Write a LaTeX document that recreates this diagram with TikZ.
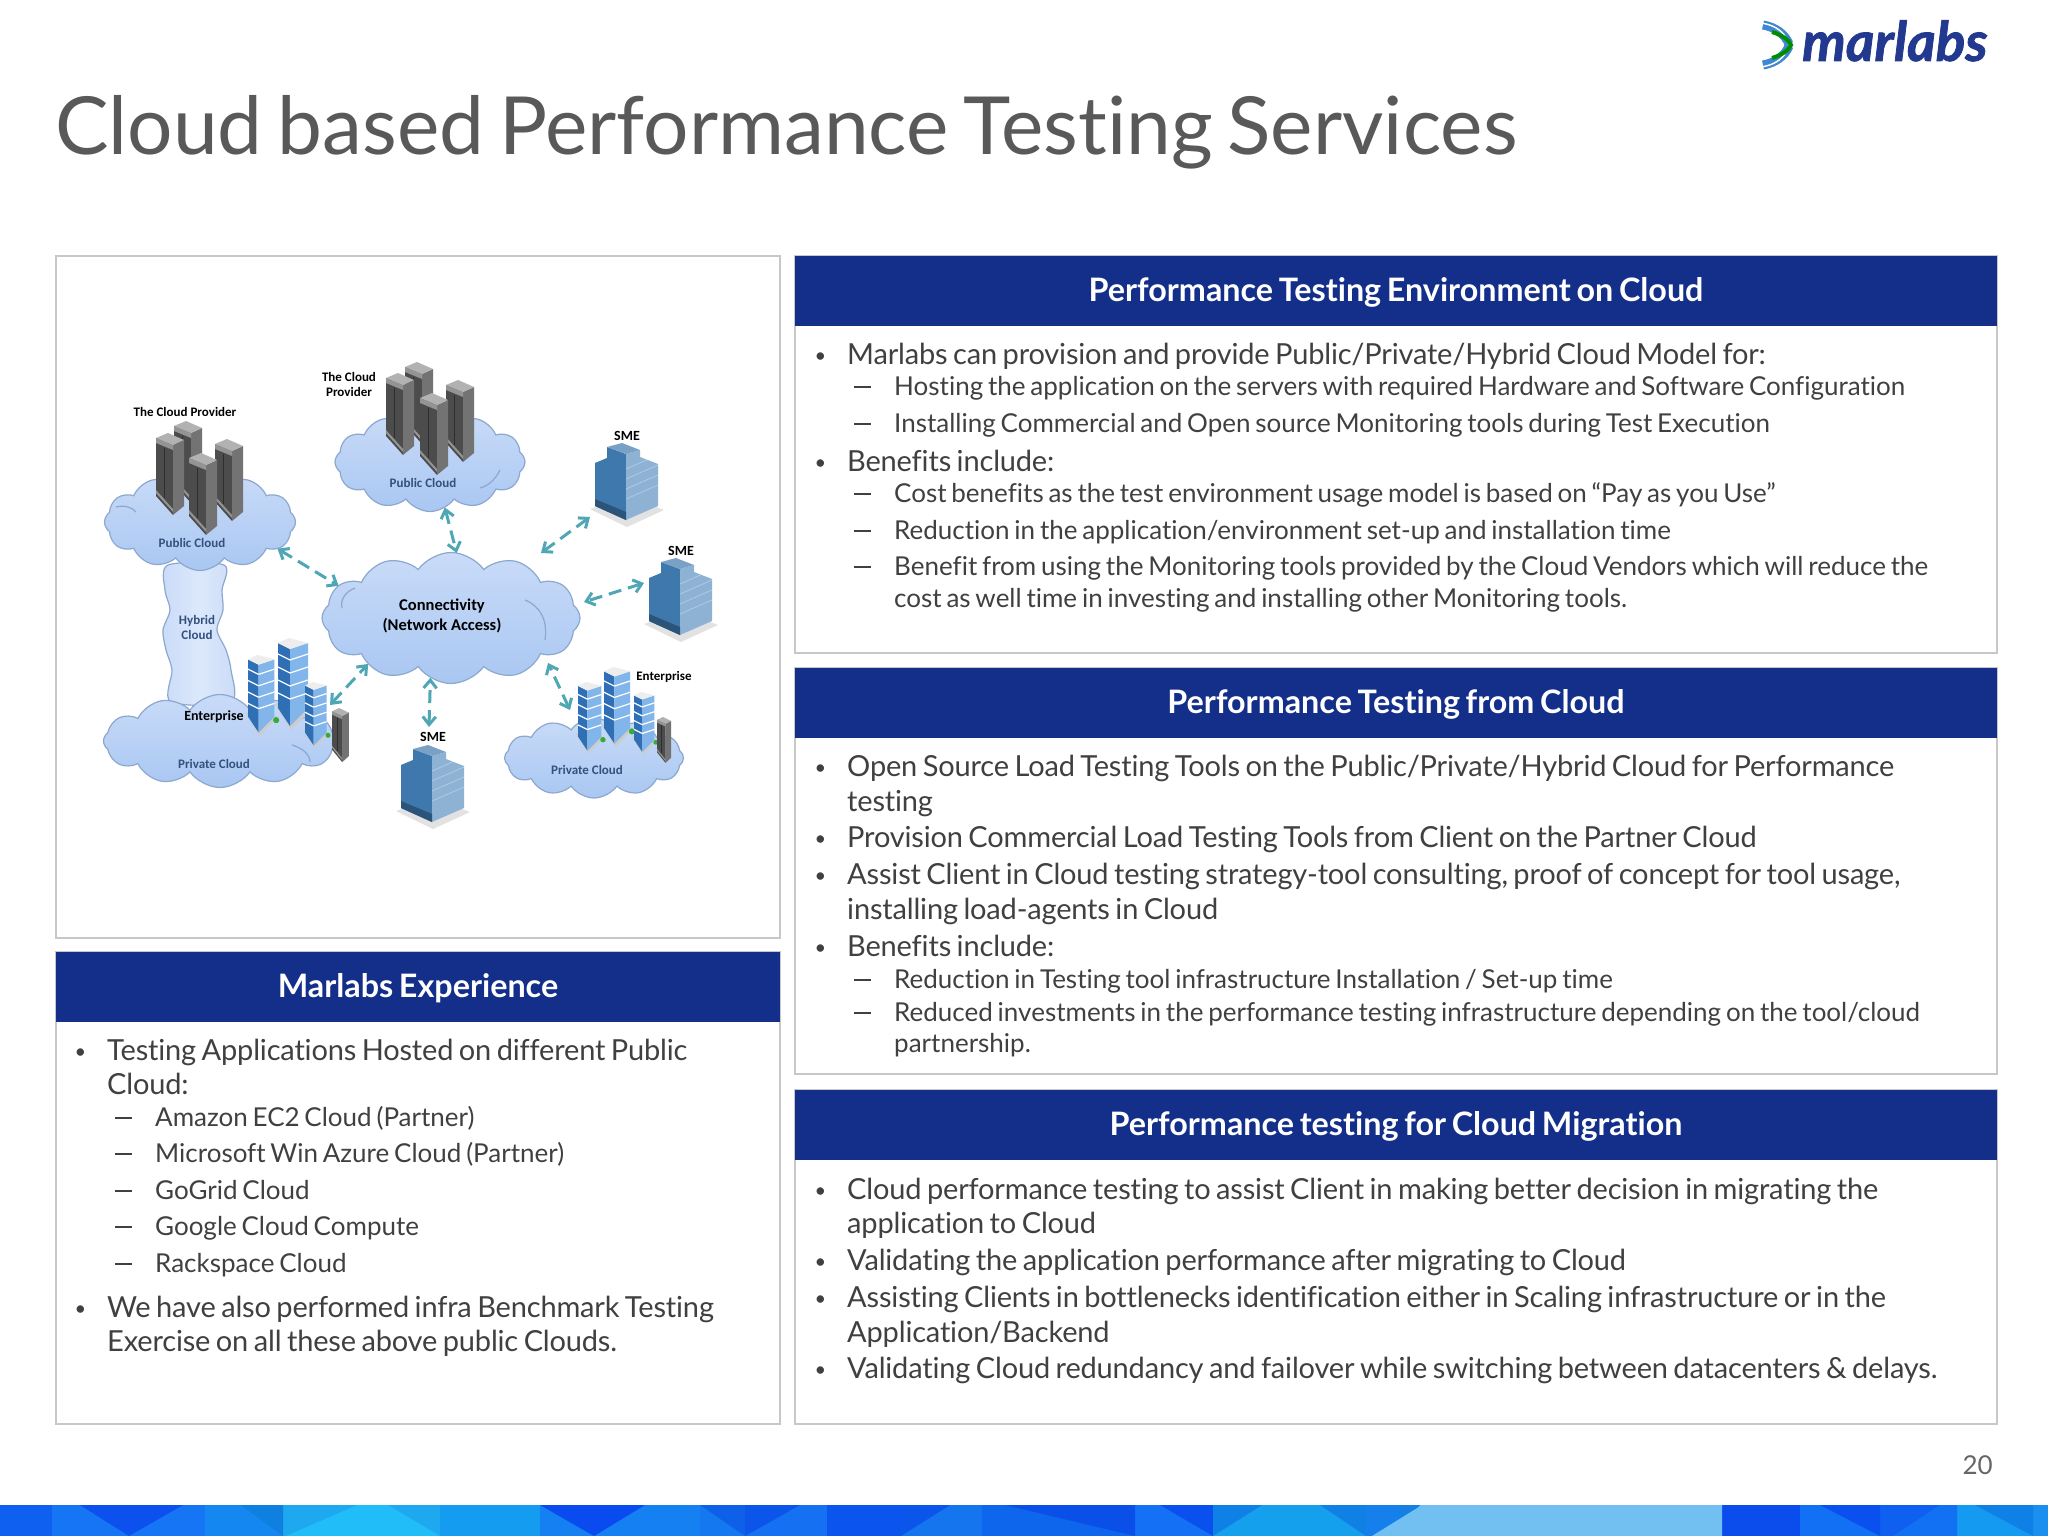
\documentclass[tikz,border=0pt]{standalone}
\usepackage{fontspec}
\setmainfont{Lato}[Ligatures=NoCommon]
\newfontfamily\labelfont{Carlito}
\newfontfamily\titlefont{Lato}[Ligatures=NoCommon,WordSpace=0.95]
\newfontfamily\headfont{Lato}[Ligatures=NoCommon,WordSpace=0.6]
\newfontfamily\bodyone{Lato}[Ligatures=NoCommon,LetterSpace=-0.6,WordSpace=0.75]
\newfontfamily\bodytwo{Lato}[Ligatures=NoCommon,WordSpace=0.72]
\newfontfamily\logofont{Lato}[BoldItalicFeatures={FakeBold=1.4}]
\usetikzlibrary{shapes.symbols,arrows.meta}
\definecolor{headblue}{HTML}{142F8A}
\definecolor{panelline}{HTML}{C8C8C8}
\definecolor{bodygray}{HTML}{404040}
\definecolor{titlegray}{HTML}{595959}
\definecolor{logoblue}{HTML}{22398F}
\definecolor{cloudline}{HTML}{8CA8CE}
\definecolor{cloudlow}{HTML}{A9C7F2}
\definecolor{cloudmid}{HTML}{DCE8FB}
\definecolor{cloudtop}{HTML}{C9DBF8}
\definecolor{cloudtext}{HTML}{34507E}
\definecolor{linkteal}{HTML}{4FA7B5}
\definecolor{smeleft}{HTML}{3F78AC}
\definecolor{smeright}{HTML}{8DB2D4}
\definecolor{towerblue}{HTML}{2F6FB5}
\definecolor{towerside}{HTML}{82B6EA}
\newcommand{\itemdot}{\llap{\raisebox{2pt}{\fontsize{20}{20}\selectfont\textbullet}\hspace{21pt}}}
\newcommand{\itemdash}{\llap{\rule[7pt]{17pt}{1.6pt}\hspace{23pt}}}
\tikzset{
	panelbox/.style={draw=panelline,fill=white,line width=1.5pt,rectangle,inner sep=0,outer sep=0,anchor=north west},
	headbar/.style={fill=headblue,text=white,rectangle,inner sep=0,outer sep=0,anchor=north west,minimum height=70pt,text height=26pt,text depth=6pt,font=\headfont\fontsize{32.3}{32}\selectfont\bfseries},
	lineone/.style={anchor=base west,inner sep=0,text=bodygray,font=\bodyone\fontsize{29}{29}\selectfont},
	linetwo/.style={anchor=base west,inner sep=0,text=bodygray,font=\bodytwo\fontsize{26}{26}\selectfont},
	puff/.style={cloud,cloud puffs=12,cloud puff arc=110,cloud ignores aspect,draw=cloudline,line width=1.2pt,top color=cloudtop,middle color=cloudmid,bottom color=cloudlow,inner sep=0,outer sep=0},
	puffarc/.style={draw=cloudline,line width=1.2pt},
	cloudname/.style={inner sep=0,text=cloudtext,font=\labelfont\fontsize{13}{15}\selectfont\bfseries,align=center},
	blacklabel/.style={inner sep=0,text=black,font=\labelfont\fontsize{13}{15}\selectfont\bfseries,align=center},
	link/.style={{Straight Barb[length=8pt,width=13pt]}-{Straight Barb[length=8pt,width=13pt]},dash pattern=on 13pt off 7pt,draw=linkteal,line width=3pt},
	serverbox/.pic={
		\fill[black!70] (0,5) -- (17,12) -- (17,82) -- (0,63) -- cycle;
		\fill[black!55] (17,12) -- (28,7) -- (28,73) -- (17,82) -- cycle;
		\fill[black!30] (0,5) -- (12,0) -- (28,7) -- (17,12) -- cycle;
		\fill[black!42] (0,5) -- (17,12) -- (17,17) -- (0,10) -- cycle;
		\fill[black!42] (0,57) -- (17,76) -- (17,79) -- (0,60) -- cycle;
		\draw[black!82,line width=.5pt] (8,15) -- (8,65);
	},
	smetower/.pic={
		\fill[black!14,opacity=.8] (-5,66) -- (32,84) -- (69,67) -- (33,53) -- cycle;
		\fill[smeleft] (0,20) -- (12,15) -- (12,4) -- (31,11) -- (31,77) -- (0,63) -- cycle;
		\fill[smeright] (31,11) -- (45,7) -- (45,14) -- (63,21) -- (63,63) -- (31,77) -- cycle;
		\fill[smeleft!70] (12,4) -- (27,0) -- (45,7) -- (31,11) -- cycle;
		\fill[smeleft!70!black] (0,56) -- (31,69) -- (31,77) -- (0,63) -- cycle;
		\foreach \k in {26,36,46,56}
			\draw[white,opacity=.35,line width=.7pt] (31,\k) -- (63,\k-14);
	},
	officetower/.pic={
		\fill[black!20] (-3,66) -- (13,92) -- (33,72) -- (20,60) -- cycle;
		\fill[towerblue] (0,5) -- (12,11) -- (12,88) -- (0,70) -- cycle;
		\fill[towerside] (12,11) -- (30,5) -- (30,70) -- (12,88) -- cycle;
		\fill[black!7] (0,5) -- (11,0) -- (30,5) -- (12,11) -- cycle;
		\foreach \k in {22,35,48,61}{
			\draw[white,line width=1.2pt] (0,\k-6) -- (12,\k);
			\draw[white,line width=1.2pt] (12,\k) -- (30,\k-6);
		}
		\fill[green!60!black!80] (32,74) circle (3.5pt);
	},
}
\begin{document}
\begin{tikzpicture}[x=1pt,y=-1pt]
	\useasboundingbox (0,0) rectangle (2048,1536);
	\fill[white] (0,0) rectangle (2048,1536);
	% title and logo
	\node[anchor=base west,inner sep=0,text=titlegray,font=\titlefont\fontsize{80.2}{80}\selectfont] (title) at (55,154) {Cloud based Performance Testing Services};
	\node[anchor=base west,inner sep=0,text=logoblue,font=\logofont\fontsize{55}{55}\selectfont\bfseries\itshape] (logotext) at (1802,61) {marlabs};
	\draw[line width=9pt,color=cyan!55!blue!80] (1763,25) .. controls (1775,27) and (1785,34) .. (1789,44);
	\draw[line width=9pt,color=cyan!55!blue!80] (1763,65) .. controls (1775,63) and (1785,56) .. (1789,46);
	\draw[line width=1.5pt,color=white] (1760,23) .. controls (1772,24) and (1782,30) .. (1786,38);
	\draw[line width=1.5pt,color=white] (1760,67) .. controls (1772,66) and (1782,60) .. (1786,52);
	\draw[line width=4pt,color=green!55!black] (1772,32) .. controls (1782,35) and (1789,40) .. (1791,45) .. controls (1789,50) and (1782,55) .. (1772,58);
	% panels
	\node[panelbox,minimum width=724pt,minimum height=682pt] (imgbox) at (56,256) {};
	\node[panelbox,minimum width=724pt,minimum height=472pt] (expbox) at (56,952) {};
	\node[panelbox,minimum width=1202pt,minimum height=397pt] (envbox) at (795,256) {};
	\node[panelbox,minimum width=1202pt,minimum height=406pt] (frombox) at (795,668) {};
	\node[panelbox,minimum width=1202pt,minimum height=334pt] (migbox) at (795,1090) {};
	\node[headbar,minimum width=724pt] (exphead) at (56,952) {Marlabs Experience};
	\node[headbar,minimum width=1202pt] (envhead) at (795,256) {Performance Testing Environment on Cloud};
	\node[headbar,minimum width=1202pt] (fromhead) at (795,668) {Performance Testing from Cloud};
	\node[headbar,minimum width=1202pt] (mighead) at (795,1090) {Performance testing for Cloud Migration};
	% environment text
	\node[lineone] (env1) at (847,364) {\itemdot Marlabs can provision and provide Public/Private/Hybrid Cloud Model for:};
	\node[linetwo] (env2) at (894,395) {\itemdash Hosting the application on the servers with required Hardware and Software Configuration};
	\node[linetwo] (env3) at (894,432) {\itemdash Installing Commercial and Open source Monitoring tools during Test Execution};
	\node[lineone] (env4) at (847,471) {\itemdot Benefits include:};
	\node[linetwo] (env5) at (894,502) {\itemdash Cost benefits as the test environment usage model is based on “Pay as you Use”};
	\node[linetwo] (env6) at (894,539) {\itemdash Reduction in the application/environment set-up and installation time};
	\node[linetwo] (env7) at (894,575) {\itemdash Benefit from using the Monitoring tools provided by the Cloud Vendors which will reduce the};
	\node[linetwo] (env8) at (894,607) {cost as well time in investing and installing other Monitoring tools.};
	% from cloud text
	\node[lineone] (from1) at (847,776) {\itemdot Open Source Load Testing Tools on the Public/Private/Hybrid Cloud for Performance};
	\node[lineone] (from2) at (847,811) {testing};
	\node[lineone] (from3) at (847,847) {\itemdot Provision Commercial Load Testing Tools from Client on the Partner Cloud};
	\node[lineone] (from4) at (847,884) {\itemdot Assist Client in Cloud testing strategy-tool consulting, proof of concept for tool usage,};
	\node[lineone] (from5) at (847,919) {installing load-agents in Cloud};
	\node[lineone] (from6) at (847,956) {\itemdot Benefits include:};
	\node[linetwo] (from7) at (894,988) {\itemdash Reduction in Testing tool infrastructure Installation / Set-up time};
	\node[linetwo] (from8) at (894,1021) {\itemdash Reduced investments in the performance testing infrastructure depending on the tool/cloud};
	\node[linetwo] (from9) at (894,1052) {partnership.};
	% migration text
	\node[lineone] (mig1) at (847,1199) {\itemdot Cloud performance testing to assist Client in making better decision in migrating the};
	\node[lineone] (mig2) at (847,1233) {application to Cloud};
	\node[lineone] (mig3) at (847,1270) {\itemdot Validating the application performance after migrating to Cloud};
	\node[lineone] (mig4) at (847,1307) {\itemdot Assisting Clients in bottlenecks identification either in Scaling infrastructure or in the};
	\node[lineone] (mig5) at (847,1342) {Application/Backend};
	\node[lineone] (mig6) at (847,1378) {\itemdot Validating Cloud redundancy and failover while switching between datacenters \& delays.};
	% experience text
	\node[lineone] (exp1) at (107,1060) {\itemdot Testing Applications Hosted on different Public};
	\node[lineone] (exp2) at (107,1094) {Cloud:};
	\node[linetwo] (exp3) at (155,1126) {\itemdash Amazon EC2 Cloud (Partner)};
	\node[linetwo] (exp4) at (155,1162) {\itemdash Microsoft Win Azure Cloud (Partner)};
	\node[linetwo] (exp5) at (155,1199) {\itemdash GoGrid Cloud};
	\node[linetwo] (exp6) at (155,1235) {\itemdash Google Cloud Compute};
	\node[linetwo] (exp7) at (155,1272) {\itemdash Rackspace Cloud};
	\node[lineone] (exp8) at (107,1317) {\itemdot We have also performed infra Benchmark Testing};
	\node[lineone] (exp9) at (107,1351) {Exercise on all these above public Clouds.};
	% clouds
	\draw[draw=cloudline,line width=1.2pt,left color=cloudtop,right color=cloudtop,middle color=cloudmid] plot[smooth cycle] coordinates {(168,565) (165,590) (170,610) (163,630) (166,650) (172,670) (171,702) (231,702) (231,670) (226,650) (217,630) (223,610) (222,590) (224,565)};
	\node[puff,minimum width=191pt,minimum height=97pt] (publeft) at (200,522) {};
	\node[puff,minimum width=190pt,minimum height=99pt] (pubtop) at (430,462) {};
	\node[puff,minimum width=233pt,minimum height=93pt] (privleft) at (220,741) {};
	\node[puff,minimum width=179pt,minimum height=80pt] (privright) at (594,758) {};
	\node[puff,minimum width=258pt,minimum height=131pt] (conn) at (451,618) {};
	\draw[puffarc] (525,600) .. controls (540,606) and (548,620) .. (545,640);
	\draw[puffarc] (355,588) .. controls (345,592) and (340,600) .. (342,608);
	\draw[puffarc] (292,745) .. controls (302,748) and (310,754) .. (310,762);
	\draw[puffarc] (116,507) .. controls (124,505) and (132,507) .. (136,512);
	\draw[puffarc] (500,470) .. controls (495,480) and (488,486) .. (480,488);
	% servers
	\pic at (174,421) {serverbox};
	\pic at (215,439) {serverbox};
	\pic at (156,433) {serverbox};
	\pic at (189,453) {serverbox};
	\pic at (405,362) {serverbox};
	\pic at (446,380) {serverbox};
	\pic at (386,373) {serverbox};
	\pic at (420,393) {serverbox};
	% small offices
	\pic at (595,443) {smetower};
	\pic at (649,558) {smetower};
	\pic at (401,745) {smetower};
	% enterprise groups
	\pic[scale=.88] at (248,655) {officetower};
	\pic at (278,638) {officetower};
	\pic[scale=.72] at (305,682) {officetower};
	\pic[xscale=.6,yscale=.66] at (332,708) {serverbox};
	\pic[scale=.78] at (578,682) {officetower};
	\pic[scale=.87] at (604,667) {officetower};
	\pic[scale=.68] at (634,692) {officetower};
	\pic[xscale=.5,yscale=.56] at (657,717) {serverbox};
	% labels
	\node[inner sep=0,text=black,font=\labelfont\fontsize{16.5}{20}\selectfont\bfseries,align=center] (connlabel) at (442,616) {Connectivity\\(Network Access)};
	\node[blacklabel] (prov1) at (185,412) {The Cloud Provider};
	\node[blacklabel] (prov2) at (349,384) {The Cloud\\Provider};
	\node[cloudname] (pub1) at (192,543) {Public Cloud};
	\node[cloudname] (pub2) at (423,483) {Public Cloud};
	\node[cloudname] (hyb) at (197,627) {Hybrid\\Cloud};
	\node[cloudname] (priv1) at (214,764) {Private Cloud};
	\node[cloudname] (priv2) at (587,770) {Private Cloud};
	\node[blacklabel,font=\labelfont\fontsize{14}{15}\selectfont\bfseries] (ent1) at (214,717) {Enterprise};
	\node[blacklabel] (ent2) at (664,677) {Enterprise};
	\node[blacklabel,font=\labelfont\fontsize{14}{15}\selectfont\bfseries] (sme1) at (627,436) {SME};
	\node[blacklabel,font=\labelfont\fontsize{14}{15}\selectfont\bfseries] (sme2) at (681,551) {SME};
	\node[blacklabel,font=\labelfont\fontsize{14}{15}\selectfont\bfseries] (sme3) at (433,737) {SME};
	% link ends
	\coordinate (end1) at (590,517);
	\coordinate (end2) at (644,583);
	\coordinate (end3) at (429,727);
	\coordinate (end4) at (330,705);
	\coordinate (end5) at (570,710);
	\coordinate (connne) at (541,553);
	\coordinate (connea) at (584,602);
	\coordinate (connse) at (548,663);
	\draw[link] (publeft.-19) -- (conn.164);
	\draw[link] (pubtop.-72) -- (conn.85);
	\draw[link] (end1) -- (connne);
	\draw[link] (end2) -- (connea);
	\draw[link] (end3) -- (conn.-109);
	\draw[link] (end4) -- (conn.-151);
	\draw[link] (end5) -- (connse);
	% footer
	\node[anchor=base east,inner sep=0,text=bodygray!80,font=\fontsize{26}{26}\selectfont] (pageno) at (1993,1474) {20};
	\foreach \xa/\xb/\tint in {0/52/0F60F0,52/205/1575F5,205/283/1488F0,283/440/1DA8F0,440/540/149DF0,540/700/1580F2,700/745/1478F0,745/827/1570F2,827/901/0B55EE,901/982/1575EE,982/1135/0E66EC,1135/1213/1470F5,1213/1366/15A0EE,1366/1400/1580EC,1400/1722/72C0F2,1722/1800/0B4CEC,1800/1880/1270F5,1880/1957/0F5FF0,1957/2033/149AF0,2033/2048/1A8FF0}{
		\definecolor{tintnow}{HTML}{\tint}
		\fill[tintnow] (\xa,1505) rectangle (\xb,1536);
	}
	\foreach \xa/\xb/\xc/\xd/\tint in {80/183/129/129/0C50EE,241/283/283/283/1080E0,357/388/440/286/20BDF8,540/645/594/594/0A4BF0,700/745/745/745/0F60E8,745/800/745/745/0C55EA,901/950/901/901/0B55EA,1005/1135/1135/1135/0A50E8,1160/1213/1213/1213/0A50EE,1213/1262/1213/1213/0F80E5,1320/1366/1366/1366/1080E5,1366/1400/1400/1366/1580EC,1400/1420/1400/1400/1580E0,1422/1722/1722/1372/72C0F2,1820/1880/1880/1880/0A50EE,1940/1957/1957/1893/1270F2,1975/2033/2033/2033/0F80E5}{
		\definecolor{tintnow}{HTML}{\tint}
		\fill[tintnow] (\xa,1505) -- (\xb,1505) -- (\xc,1536) -- (\xd,1536) -- cycle;
	}
\end{tikzpicture}
\end{document}
